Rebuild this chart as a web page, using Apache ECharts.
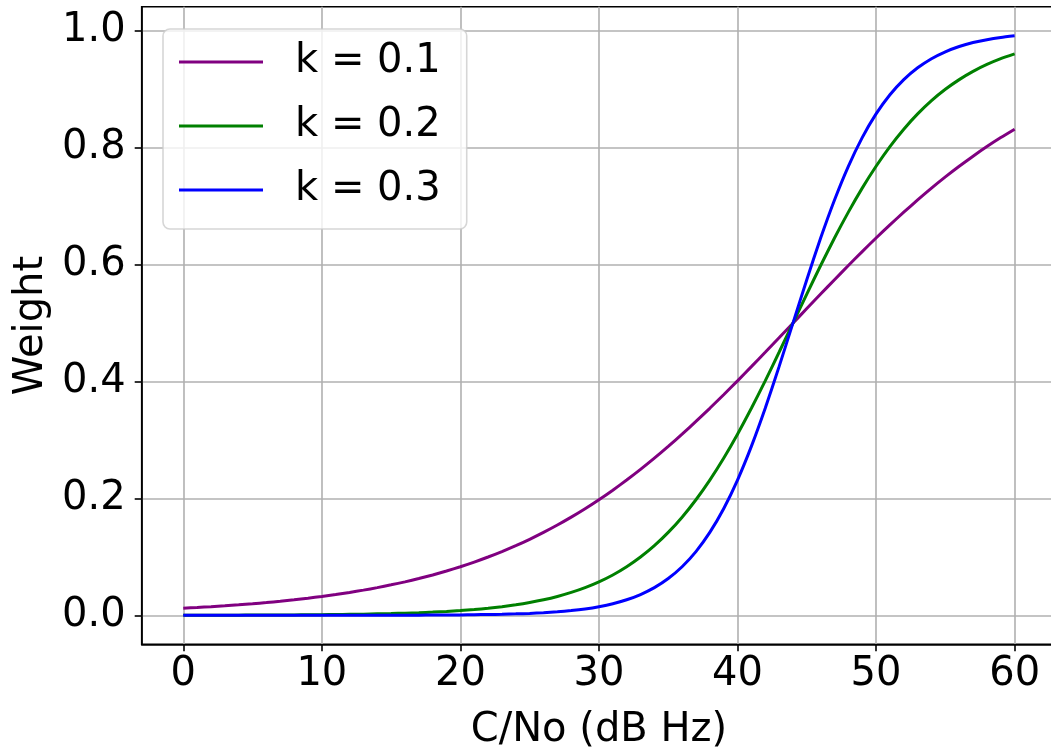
<!DOCTYPE html>
<html>
<head>
<meta charset="utf-8">
<script src="https://cdn.jsdelivr.net/npm/echarts@6/dist/echarts.min.js"></script>
<style>
html, body { margin: 0; padding: 0; background: #fff; overflow: hidden; }
#chart { width: 1062px; height: 751px; }
</style>
</head>
<body>
<div id="chart"></div>
<script>
const xValues = [0,1,2,3,4,5,6,7,8,9,10,11,12,13,14,15,16,17,18,19,20,21,22,23,24,25,26,27,28,29,30,31,32,33,34,35,36,37,38,39,40,41,42,43,44,45,46,47,48,49,50,51,52,53,54,55,56,57,58,59,60];

const k01 = [0.0121,0.0134,0.0148,0.0163,0.0180,0.0198,0.0219,0.0241,0.0266,0.0293,0.0323,0.0356,0.0392,0.0431,0.0474,0.0522,0.0573,0.0630,0.0691,0.0759,0.0832,0.0911,0.0998,0.1091,0.1192,0.1301,0.1419,0.1545,0.1680,0.1824,0.1978,0.2142,0.2315,0.2497,0.2689,0.2891,0.3100,0.3318,0.3543,0.3775,0.4013,0.4256,0.4502,0.4750,0.5000,0.5250,0.5498,0.5744,0.5987,0.6225,0.6457,0.6682,0.6900,0.7109,0.7311,0.7503,0.7685,0.7858,0.8022,0.8176,0.8320];

const k02 = [0.0002,0.0002,0.0002,0.0003,0.0003,0.0004,0.0005,0.0006,0.0007,0.0009,0.0011,0.0014,0.0017,0.0020,0.0025,0.0030,0.0037,0.0045,0.0055,0.0067,0.0082,0.0100,0.0121,0.0148,0.0180,0.0219,0.0266,0.0323,0.0392,0.0474,0.0573,0.0691,0.0832,0.0998,0.1192,0.1419,0.1680,0.1978,0.2315,0.2689,0.3100,0.3543,0.4013,0.4502,0.5000,0.5498,0.5987,0.6457,0.6900,0.7311,0.7685,0.8022,0.8320,0.8581,0.8808,0.9002,0.9168,0.9309,0.9427,0.9526,0.9608];

const k03 = [0.0000,0.0000,0.0000,0.0000,0.0000,0.0000,0.0000,0.0000,0.0000,0.0000,0.0000,0.0001,0.0001,0.0001,0.0001,0.0002,0.0002,0.0003,0.0004,0.0006,0.0007,0.0010,0.0014,0.0018,0.0025,0.0033,0.0045,0.0061,0.0082,0.0110,0.0148,0.0198,0.0266,0.0356,0.0474,0.0630,0.0832,0.1091,0.1419,0.1824,0.2315,0.2891,0.3543,0.4256,0.5000,0.5744,0.6457,0.7109,0.7685,0.8176,0.8581,0.8909,0.9168,0.9370,0.9526,0.9644,0.9734,0.9802,0.9852,0.9890,0.9918];

const seriesNames = ['k = 0.1', 'k = 0.2', 'k = 0.3'];
const seriesColors = ['#800080', '#008000', '#0000ff'];
const xTicks = [0, 10, 20, 30, 40, 50, 60];
const yTicks = [0, 0.2, 0.4, 0.6, 0.8, 1.0];
const xTitle = 'C/No (dB Hz)';
const yTitle = 'Weight';

function pairs(ys) { return xValues.map((x, i) => [x, ys[i]]); }
const allSeries = [k01, k02, k03];

const FONT = 'DejaVu Sans';
const chart = echarts.init(document.getElementById('chart'), null, { renderer: 'canvas' });
chart.setOption({
  animation: false,
  backgroundColor: '#ffffff',
  textStyle: { fontFamily: FONT },
  grid: {
    left: 141.7, top: 6.8, width: 914.5, height: 637.5,
    outerBoundsMode: 'none', containLabel: false,
    show: true, borderColor: '#000', borderWidth: 1.6, backgroundColor: 'transparent'
  },
  legend: {
    left: 163, top: 29,
    orient: 'vertical',
    icon: 'rect',
    itemWidth: 84, itemHeight: 3,
    itemGap: 24,
    padding: [13, 26, 19, 16],
    backgroundColor: 'rgba(255,255,255,0.8)',
    borderColor: 'rgba(204,204,204,0.8)', borderWidth: 1.6, borderRadius: 7,
    textStyle: { fontFamily: FONT, fontSize: 40, color: '#000', lineHeight: 40, padding: [0, 0, 0, 27] },
    data: seriesNames
  },
  xAxis: {
    type: 'value', min: -3, max: 63,
    name: xTitle, nameLocation: 'middle', nameGap: 66,
    nameTextStyle: { fontFamily: FONT, fontSize: 40, color: '#000' },
    axisLine: { show: true, onZero: false, lineStyle: { color: '#000', width: 1.6 } },
    axisTick: { show: true, customValues: xTicks, length: 7, lineStyle: { color: '#000', width: 1.6 } },
    axisLabel: { customValues: xTicks, fontFamily: FONT, fontSize: 40, color: '#000', margin: 10, formatter: v => String(v) },
    splitLine: { show: true, customValues: xTicks, lineStyle: { color: '#b0b0b0', width: 1.6 } }
  },
  yAxis: {
    type: 'value', min: -0.04959, max: 1.04142,
    name: yTitle, nameLocation: 'middle', nameGap: 88,
    nameTextStyle: { fontFamily: FONT, fontSize: 40, color: '#000' },
    axisLine: { show: true, onZero: false, lineStyle: { color: '#000', width: 1.6 } },
    axisTick: { show: true, customValues: yTicks, length: 7, lineStyle: { color: '#000', width: 1.6 } },
    axisLabel: { customValues: yTicks, fontFamily: FONT, fontSize: 40, color: '#000', margin: 16, formatter: v => v.toFixed(1) },
    splitLine: { show: true, customValues: yTicks, lineStyle: { color: '#b0b0b0', width: 1.6 } }
  },
  series: allSeries.map((ys, i) => ({
    name: seriesNames[i],
    type: 'line',
    data: pairs(ys),
    showSymbol: false,
    smooth: 0.2,
    lineStyle: { color: seriesColors[i], width: 3 },
    itemStyle: { color: seriesColors[i] },
    z: 3
  }))
});
</script>
</body>
</html>
